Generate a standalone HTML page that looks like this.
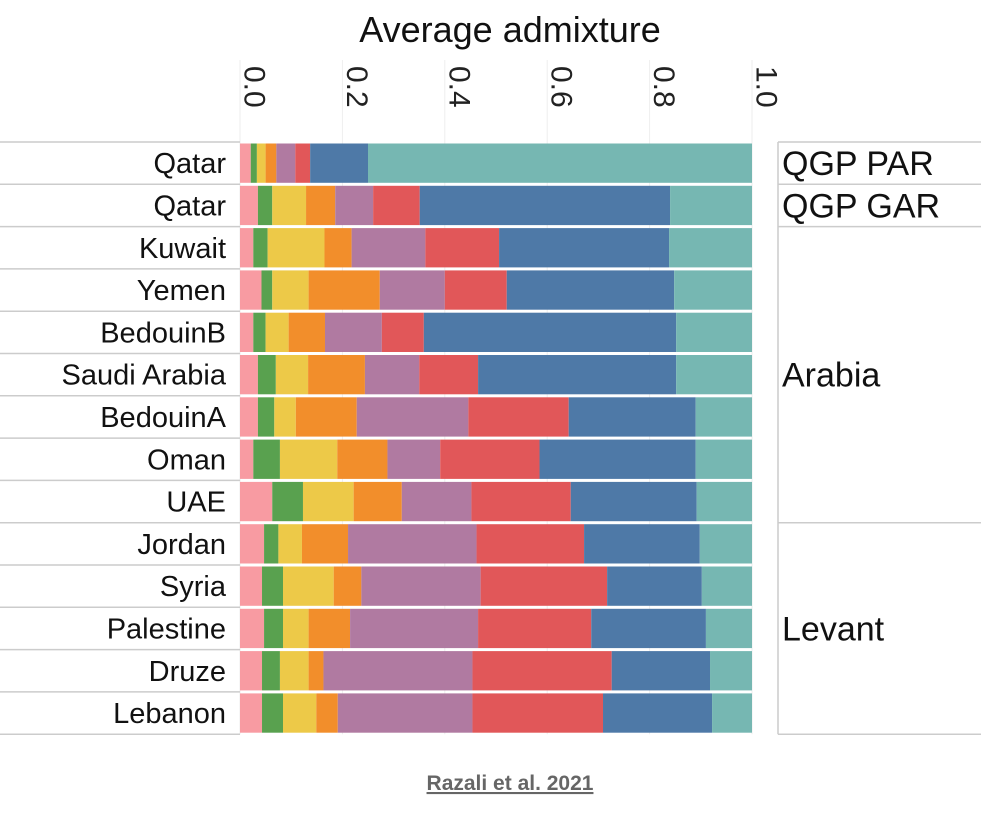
<!DOCTYPE html>
<html><head><meta charset="utf-8"><style>
html,body{margin:0;padding:0;background:#fff;}
svg{display:block;font-family:"Liberation Sans",sans-serif;}
</style></head><body>
<svg id="chart" width="981" height="826" viewBox="0 0 981 826" xmlns="http://www.w3.org/2000/svg">
<text x="510" y="42" text-anchor="middle" font-size="36" fill="#111">Average admixture</text>
<g id="grid"></g>
<g id="ticks"></g>
<g id="bars"></g>
<g id="labels"></g>
<g id="groups"></g>
<text x="510" y="790" text-anchor="middle" font-size="21" font-weight="bold" fill="#666" text-decoration="underline">Razali et al. 2021</text>
</svg>
<script>
const categories = ["Qatar","Qatar","Kuwait","Yemen","BedouinB","Saudi Arabia","BedouinA","Oman","UAE","Jordan","Syria","Palestine","Druze","Lebanon"];
const pink   = [.021,.035,.026,.042,.026,.035,.035,.026,.063,.047,.043,.047,.043,.043];
const green  = [.012,.028,.028,.021,.024,.035,.032,.052,.060,.028,.041,.037,.035,.041];
const yellow = [.017,.066,.111,.071,.045,.063,.042,.112,.099,.046,.099,.050,.056,.065];
const orange = [.021,.057,.053,.139,.071,.111,.119,.098,.094,.090,.054,.081,.029,.042];
const purple = [.037,.074,.144,.127,.111,.106,.218,.103,.136,.251,.233,.250,.291,.263];
const red    = [.029,.091,.144,.121,.082,.115,.196,.194,.194,.210,.247,.221,.272,.255];
const blue   = [.113,.489,.332,.327,.493,.387,.248,.305,.246,.226,.185,.224,.192,.213];
const teal   = [.750,.160,.162,.152,.148,.148,.110,.110,.108,.102,.098,.090,.082,.078];
const tickLabels = ["0.0","0.2","0.4","0.6","0.8","1.0"];
const tickValues = [0,0.2,0.4,0.6,0.8,1.0];
const groupNames = ["QGP PAR","QGP GAR","Arabia","Levant"];
const groupStart = [0,1,2,9];
const groupEnd   = [1,2,9,14];

const NS="http://www.w3.org/2000/svg";
const X0=240, XW=512, Y0=142, RH=42.3;
const x = v => X0 + v*XW;
const y = i => Y0 + i*RH;
const series=[pink,green,yellow,orange,purple,red,blue,teal];
const colors=["#f89ba2","#59a14f","#edc948","#f28e2b","#b07aa1","#e15759","#4e79a7","#76b7b2"];
const names=["pink","green","yellow","orange","purple","red","blue","teal"];
function mk(tag,attrs,parent){const e=document.createElementNS(NS,tag);for(const k in attrs)e.setAttribute(k,attrs[k]);document.getElementById(parent).appendChild(e);return e;}

// grid
tickValues.forEach((v,i)=>{
  const l=mk("line",{x1:x(v),x2:x(v),y1:60,y2:y(14),stroke:"#eeeeee","stroke-width":1},"grid");
  
  
});
for(let i=0;i<=14;i++){
  const l=mk("line",{x1:0,x2:X0,y1:y(i),y2:y(i),stroke:"#cccccc","stroke-width":1.5},"grid");
  
  
}
const vl=mk("line",{x1:778,x2:778,y1:Y0,y2:y(14),stroke:"#cccccc","stroke-width":1.5},"grid");


for(let g=0;g<=groupNames.length;g++){
  const yy = g<groupNames.length?y(groupStart[g]):y(14);
  const l=mk("line",{x1:778,x2:981,y1:yy,y2:yy,stroke:"#cccccc","stroke-width":1.5},"grid");
  
  
}
// ticks
tickLabels.forEach((t,i)=>{
  const tx=x(tickValues[i]);
  const e=mk("text",{x:0,y:0,"font-size":30,fill:"#222","dominant-baseline":"central",transform:`translate(${tx+14},66) rotate(90)`},"ticks");
  e.textContent=t;
  
  
});
// bars
categories.forEach((c,i)=>{
  let acc=0;
  series.forEach((s,k)=>{
    const v=s[i];
    const r=mk("rect",{x:x(acc),y:y(i)+1.5,width:Math.max(0,x(acc+v)-x(acc)),height:RH-3,fill:colors[k]},"bars");
    
    
    acc+=v;
  });
  const t=mk("text",{x:226,y:y(i)+RH/2+10,"text-anchor":"end","font-size":29,fill:"#111"},"labels");
  t.textContent=c;
  
  
});
groupNames.forEach((g,i)=>{
  const cy=(y(groupStart[i])+y(groupEnd[i]))/2;
  const t=mk("text",{x:782,y:cy+12,"font-size":34,fill:"#111"},"groups");
  t.textContent=g;
  
  
});
</script>
</body></html>
